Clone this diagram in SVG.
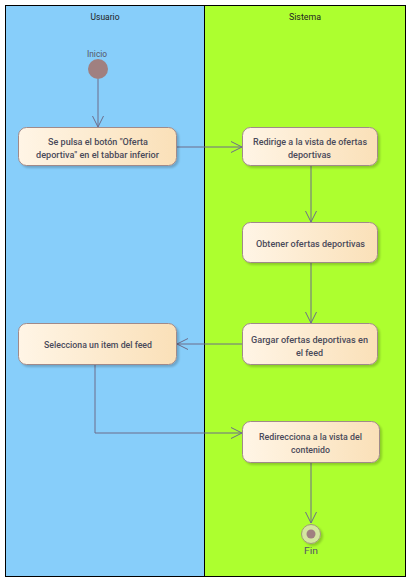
<svg xmlns="http://www.w3.org/2000/svg" width="410" height="577" viewBox="0 0 410 577">
<defs>
<linearGradient id="g" x1="0" y1="0" x2="1" y2="0">
<stop offset="0" stop-color="#fff5e6"/>
<stop offset="1" stop-color="#fae0b8"/>
</linearGradient>
<marker id="a" markerWidth="12" markerHeight="12" refX="11" refY="6" orient="auto" markerUnits="userSpaceOnUse">
<path d="M0,0.5 L11,6 L0,11.5" fill="none" stroke="#6c6c8a" stroke-width="1"/>
</marker>
<filter id="s" x="-10%" y="-10%" width="130%" height="140%">
<feOffset dx="2" dy="2" in="SourceAlpha" result="o"/>
<feGaussianBlur in="o" stdDeviation="1"/>
<feComponentTransfer><feFuncA type="linear" slope="0.2"/></feComponentTransfer>
<feMerge><feMergeNode/><feMergeNode in="SourceGraphic"/></feMerge>
</filter>
</defs>
<style>
.act{fill:url(#g);stroke:#a08a8a;stroke-width:1;filter:url(#s)}
.t{font-family:Roboto,"Liberation Sans",sans-serif;font-size:9.5px;font-weight:500;fill:#4a4a5a;text-anchor:middle}
.h{font-family:Roboto,"Liberation Sans",sans-serif;font-size:9.5px;fill:#222;text-anchor:middle}
.l{font-family:Roboto,"Liberation Sans",sans-serif;font-size:9.5px;fill:#555566;text-anchor:middle}
.c{fill:none;stroke:#6c6c8a;stroke-width:1;marker-end:url(#a)}
</style>
<g id="lanes">
<rect x="5.5" y="5.5" width="199" height="571" fill="#87cefa" stroke="#000" stroke-width="1"/>
<rect x="204.5" y="5.5" width="201" height="571" fill="#adff2f" stroke="#000" stroke-width="1"/>
<text class="h" x="105" y="20" textLength="29" lengthAdjust="spacingAndGlyphs">Usuario</text>
<text class="h" x="305" y="20" textLength="32" lengthAdjust="spacingAndGlyphs">Sistema</text>
</g>
<g id="connectors">
<path class="c" d="M98,79 L98,127"/>
<path class="c" d="M177,147 L242,147"/>
<path class="c" d="M311,166 L311,222"/>
<path class="c" d="M311,263 L311,323"/>
<path class="c" d="M242,344 L177,344"/>
<path class="c" d="M95,365 L95,433 L242,433"/>
<path class="c" d="M311,463 L311,523"/>
</g>
<g id="start">
<circle cx="98" cy="69" r="10" fill="#a08080"/>
<text class="l" x="97" y="57" textLength="20" lengthAdjust="spacingAndGlyphs">Inicio</text>
</g>
<g id="n1">
<rect class="act" x="18.5" y="127.5" width="158" height="38" rx="8"/>
<text class="t" x="98" y="145" textLength="100" lengthAdjust="spacingAndGlyphs">Se pulsa el botón "Oferta</text>
<text class="t" x="97.5" y="158" textLength="123" lengthAdjust="spacingAndGlyphs">deportiva" en el tabbar inferior</text>
</g>
<g id="n2">
<rect class="act" x="242.5" y="127.5" width="135" height="38" rx="8"/>
<text class="t" x="310" y="145" textLength="114" lengthAdjust="spacingAndGlyphs">Redirige a la vista de ofertas</text>
<text class="t" x="309.5" y="158" textLength="43" lengthAdjust="spacingAndGlyphs">deportivas</text>
</g>
<g id="n3">
<rect class="act" x="242.5" y="222.5" width="135" height="40" rx="8"/>
<text class="t" x="310.5" y="247" textLength="109" lengthAdjust="spacingAndGlyphs">Obtener ofertas deportivas</text>
</g>
<g id="n4">
<rect class="act" x="242.5" y="323.5" width="135" height="41" rx="8"/>
<text class="t" x="309.5" y="343" textLength="117" lengthAdjust="spacingAndGlyphs">Gargar ofertas deportivas en</text>
<text class="t" x="309.5" y="356" textLength="27" lengthAdjust="spacingAndGlyphs">el feed</text>
</g>
<g id="n5">
<rect class="act" x="18.5" y="323.5" width="158" height="41" rx="8"/>
<text class="t" x="98" y="348" textLength="108" lengthAdjust="spacingAndGlyphs">Selecciona un item del feed</text>
</g>
<g id="n6">
<rect class="act" x="242.5" y="421.5" width="137" height="41" rx="8"/>
<text class="t" x="310.5" y="440" textLength="103" lengthAdjust="spacingAndGlyphs">Redirecciona a la vista del</text>
<text class="t" x="310.5" y="453" textLength="39" lengthAdjust="spacingAndGlyphs">contenido</text>
</g>
<g id="end">
<circle cx="311" cy="534" r="9.5" fill="#d4e6a0" stroke="#a09a78" stroke-width="1" filter="url(#s)"/>
<circle cx="311" cy="534" r="4.5" fill="#a08080"/>
<text class="l" x="311" y="554" textLength="14" lengthAdjust="spacingAndGlyphs">Fin</text>
</g>
</svg>
